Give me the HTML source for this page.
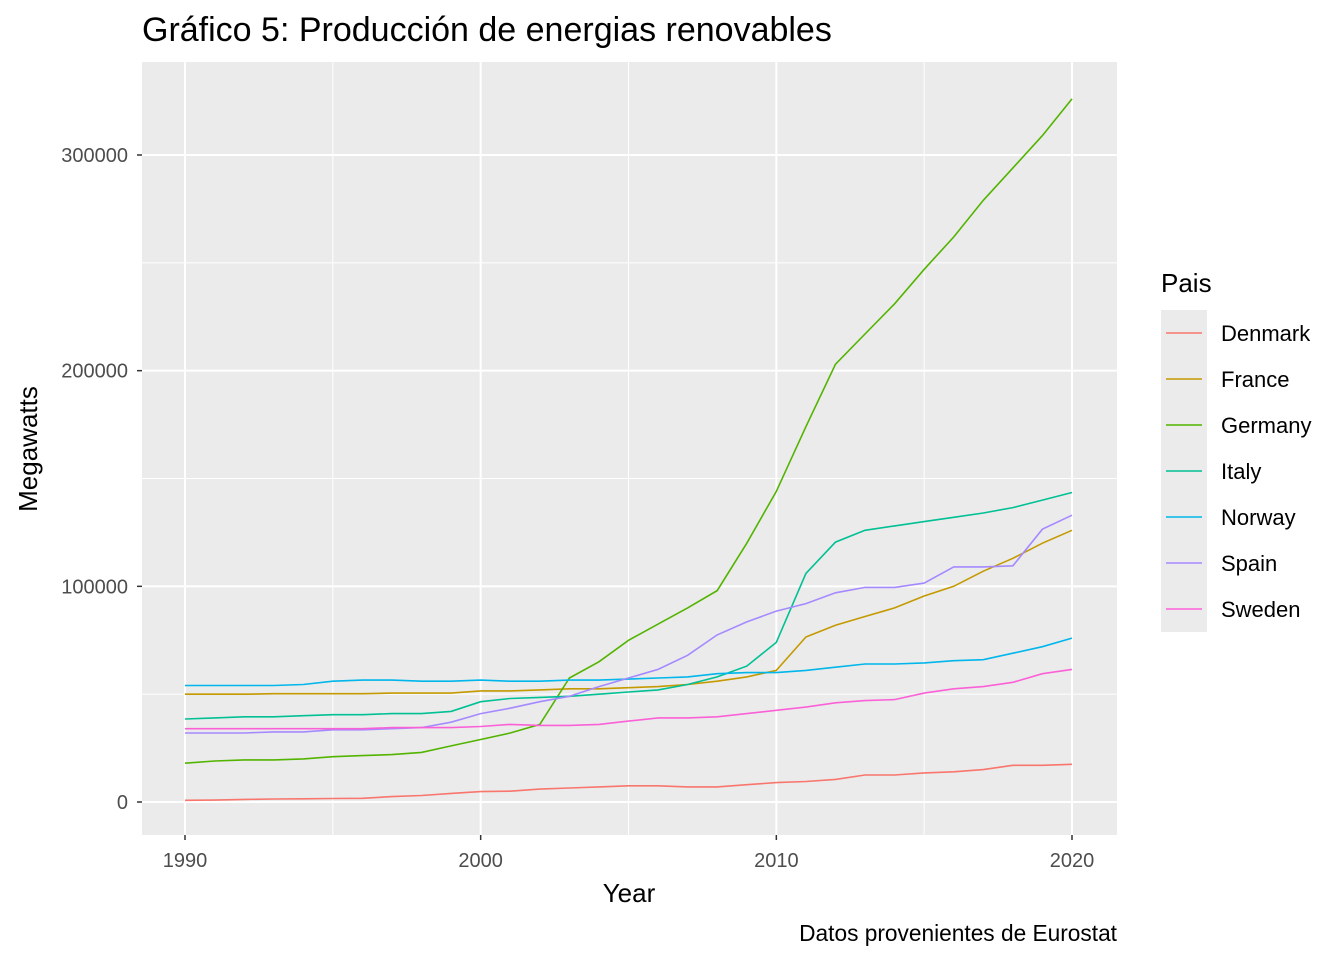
<!DOCTYPE html>
<html><head><meta charset="utf-8"><style>
body{margin:0;background:#fff;}
svg text{font-family:"Liberation Sans",Arial,sans-serif;}
</style></head><body>
<svg id="chart" width="1344" height="960" xmlns="http://www.w3.org/2000/svg">
<rect width="1344" height="960" fill="#fff"/>
<text x="142" y="41" font-size="34" fill="#000">Gráfico 5: Producción de energias renovables</text>
<rect x="142" y="62" width="975" height="773" fill="#ebebeb"/>
<g id="grid"></g>
<g id="series"></g>
<g id="axes"></g>
<text x="629" y="902" font-size="26" text-anchor="middle" fill="#000">Year</text>
<text transform="translate(37,449) rotate(-90)" font-size="26" text-anchor="middle" fill="#000">Megawatts</text>
<text x="1117" y="941" font-size="22.7" text-anchor="end" fill="#000">Datos provenientes de Eurostat</text>
<text x="1161" y="292" font-size="26" fill="#000">Pais</text>
<g id="legend"></g>
</svg>
<script>
const years=[1990,1991,1992,1993,1994,1995,1996,1997,1998,1999,2000,2001,2002,2003,2004,2005,2006,2007,2008,2009,2010,2011,2012,2013,2014,2015,2016,2017,2018,2019,2020];
const countries=["Denmark","France","Germany","Italy","Norway","Spain","Sweden"];
const colors=["#F8766D","#C49A00","#53B400","#00C094","#00B6EB","#A58AFF","#FB61D7"];
const denmark=[800,900,1200,1400,1500,1600,1700,2500,3000,4000,4800,5000,6000,6500,7000,7500,7500,7000,7000,8000,9000,9500,10500,12500,12500,13500,14000,15000,17000,17000,17500];
const france=[50000,50000,50000,50200,50200,50200,50200,50500,50500,50500,51500,51500,52000,52500,52500,53000,53500,54500,56000,58000,61000,76500,82000,86000,90000,95500,100000,107000,113000,120000,126000];
const germany=[18000,19000,19500,19500,20000,21000,21500,22000,23000,26000,29000,32000,36000,57500,65000,75000,82500,90000,98000,120000,144000,174000,203000,217000,231000,247000,262000,279000,294000,309000,326000];
const italy=[38500,39000,39500,39500,40000,40500,40500,41000,41000,42000,46500,48000,48500,49000,50000,51000,52000,54500,58000,63000,74000,106000,120500,126000,128000,130000,132000,134000,136500,140000,143500];
const norway=[54000,54000,54000,54000,54500,56000,56500,56500,56000,56000,56500,56000,56000,56500,56500,57000,57500,58000,59500,60000,60000,61000,62500,64000,64000,64500,65500,66000,69000,72000,76000];
const spain=[32000,32000,32000,32500,32500,33500,33500,34000,34500,37000,41000,43500,46500,49000,53500,57500,61500,68000,77500,83500,88500,92000,97000,99500,99500,101500,109000,109000,109500,126500,133000];
const sweden=[34000,34000,34000,34000,34000,34000,34000,34500,34500,34500,35000,36000,35500,35500,36000,37500,39000,39000,39500,41000,42500,44000,46000,47000,47500,50500,52500,53500,55500,59500,61500];
const series=[denmark,france,germany,italy,norway,spain,sweden];
const yTicks=[0,100000,200000,300000];
const yMinor=[50000,150000,250000];
const xTicks=[1990,2000,2010,2020];
const xMinor=[1995,2005,2015];
const NS="http://www.w3.org/2000/svg";
const X=v=>185+(v-1990)*(1072-185)/30;
const Y=v=>802-v*647/300000;
function mk(tag,attrs,parent){const e=document.createElementNS(NS,tag);for(const k in attrs)e.setAttribute(k,attrs[k]);parent.appendChild(e);return e;}
const grid=document.getElementById('grid'),axes=document.getElementById('axes');
yMinor.forEach(v=>{const l=mk('line',{x1:142,x2:1117,y1:Y(v),y2:Y(v),stroke:'#fff','stroke-width':1},grid);

});
xMinor.forEach(v=>{const l=mk('line',{x1:X(v),x2:X(v),y1:62,y2:835,stroke:'#fff','stroke-width':1},grid);

});
yTicks.forEach(v=>{const l=mk('line',{x1:142,x2:1117,y1:Y(v),y2:Y(v),stroke:'#fff','stroke-width':2},grid);


const t=mk('line',{x1:137,x2:142,y1:Y(v),y2:Y(v),stroke:'#333','stroke-width':1.5},axes);


const tx=mk('text',{x:128,y:Y(v)+7,'font-size':20,'text-anchor':'end',fill:'#4d4d4d'},axes);tx.textContent=v;

});
xTicks.forEach(v=>{const l=mk('line',{x1:X(v),x2:X(v),y1:62,y2:835,stroke:'#fff','stroke-width':2},grid);


const t=mk('line',{x1:X(v),x2:X(v),y1:835,y2:840,stroke:'#333','stroke-width':1.5},axes);


const tx=mk('text',{x:X(v),y:867,'font-size':20,'text-anchor':'middle',fill:'#4d4d4d'},axes);tx.textContent=v;

});
const sg=document.getElementById('series'),lg=document.getElementById('legend');
series.forEach((s,i)=>{const pts=s.map((v,j)=>X(years[j]).toFixed(1)+','+Y(v).toFixed(1)).join(' ');
const p=mk('polyline',{points:pts,fill:'none',stroke:colors[i],'stroke-width':1.6},sg);


const y0=310+i*46;
const bg=mk('rect',{x:1161,y:y0,width:46,height:46,fill:'#ebebeb'},lg);


const k=mk('line',{x1:1166,x2:1202,y1:y0+23,y2:y0+23,stroke:colors[i],'stroke-width':1.6},lg);


const t=mk('text',{x:1221,y:y0+31,'font-size':22,fill:'#000'},lg);t.textContent=countries[i];

});
</script>
</body></html>
